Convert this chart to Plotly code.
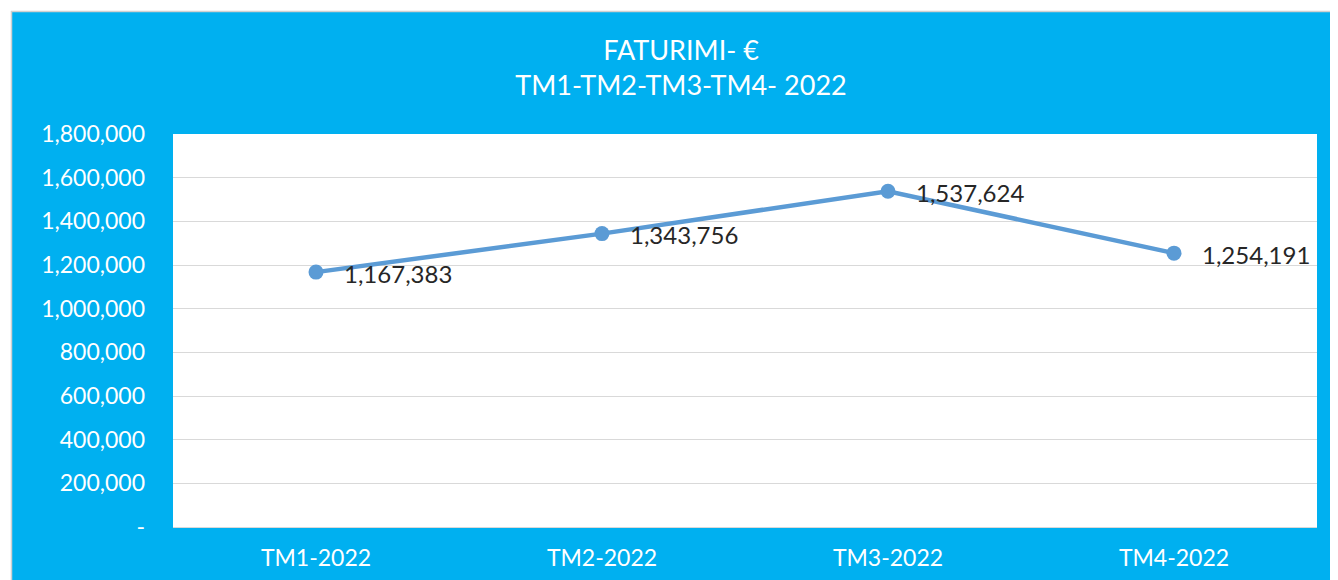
import plotly.graph_objects as go

categories = ["TM1-2022", "TM2-2022", "TM3-2022", "TM4-2022"]
values = [1167383, 1343756, 1537624, 1254191]
y_tickvals = [0, 200000, 400000, 600000, 800000, 1000000, 1200000, 1400000, 1600000, 1800000]
y_ticktext = ["-", "200,000", "400,000", "600,000", "800,000", "1,000,000",
              "1,200,000", "1,400,000", "1,600,000", "1,800,000"]
title_text = "FATURIMI- €<br>TM1-TM2-TM3-TM4- 2022"

# page has an 8px body margin: figure is drawn at (8, 8)
OFF = 8
W, H = 1338 - OFF, 580 - OFF
L, R, T, B = 173 - OFF, 21, 134 - OFF, 53
PW, PH = W - L - R, H - T - B

def px(x):  # page pixel -> paper x
    return (x - OFF - L) / PW

def py(y):  # page pixel -> paper y
    return (H - B - (y - OFF)) / PH

BLUE = "#00B0F0"
LINE = "#5B9BD5"
FONT = "Lato"

fig = go.Figure()
fig.add_trace(go.Scatter(
    x=categories, y=values, mode="lines+markers",
    line=dict(color=LINE, width=4.5),
    marker=dict(color=LINE, size=15),
    hoverinfo="skip", showlegend=False,
))

annotations = []
for c, v in zip(categories, values):
    annotations.append(dict(
        x=c, y=v, xref="x", yref="y", text=f"{v:,}", showarrow=False,
        xanchor="left", yanchor="middle", xshift=26, yshift=-1,
        font=dict(family=FONT, size=24, color="#262626"),
    ))

shapes = [
    dict(type="rect", xref="paper", yref="paper", x0=px(-20), x1=px(11),
         y0=py(600), y1=py(-20), fillcolor="white", line=dict(width=0), layer="above"),
    dict(type="rect", xref="paper", yref="paper", x0=px(-20), x1=px(1360),
         y0=py(11), y1=py(-20), fillcolor="white", line=dict(width=0), layer="above"),
    dict(type="line", xref="paper", yref="paper", x0=px(11.5), x1=px(11.5),
         y0=py(11), y1=py(600), line=dict(color="#D0D0D0", width=1.5), layer="above"),
    dict(type="line", xref="paper", yref="paper", x0=px(11), x1=px(1360),
         y0=py(11.5), y1=py(11.5), line=dict(color="#D0D0D0", width=1.5), layer="above"),
]

fig.update_layout(
    width=W, height=H,
    margin=dict(l=L, r=R, t=T, b=B, pad=0, autoexpand=False),
    paper_bgcolor=BLUE, plot_bgcolor="white",
    title=dict(text=title_text, x=(681 - OFF) / W, xanchor="center", xref="container",
               y=1 - (60 - OFF) / H, yanchor="middle", yref="container",
               font=dict(family=FONT, size=27, color="white")),
    xaxis=dict(type="category", range=[-0.5, 3.5], showgrid=False, zeroline=False,
               showline=False, ticks="", ticklabelstandoff=15, automargin=False,
               tickfont=dict(family=FONT, size=23, color="white"), fixedrange=True),
    yaxis=dict(range=[0, 1800000], tickvals=y_tickvals, ticktext=y_ticktext,
               showgrid=True, gridcolor="#D9D9D9", gridwidth=1, zeroline=True,
               zerolinecolor="#D9D9D9", zerolinewidth=1, showline=False, ticks="",
               ticklabelstandoff=27, automargin=False,
               tickfont=dict(family=FONT, size=23, color="white"), fixedrange=True),
    annotations=annotations,
    shapes=shapes,
)

fig.write_html("out.html")
